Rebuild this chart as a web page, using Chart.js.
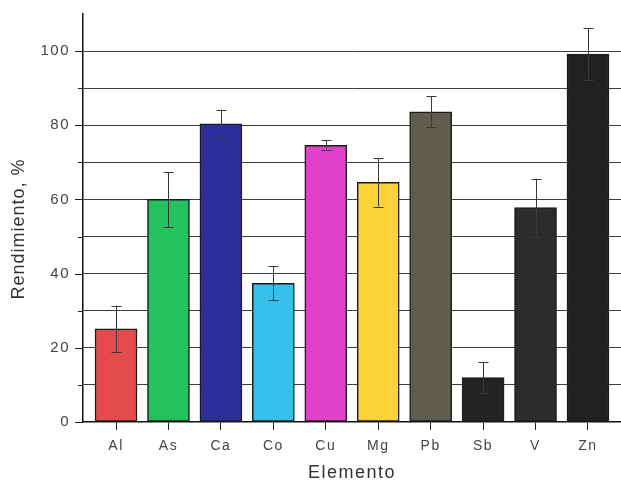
<!DOCTYPE html>
<html>
<head>
<meta charset="utf-8">
<script src="https://cdn.jsdelivr.net/npm/chart.js@4.4.1/dist/chart.umd.min.js"></script>
<style>
  html, body { margin: 0; padding: 0; background: #fff; }
  #wrap { width: 621px; height: 482px; }
</style>
</head>
<body>
<div id="wrap"><canvas id="rendimiento"></canvas></div>
<script>
  const elementos = ['Al', 'As', 'Ca', 'Co', 'Cu', 'Mg', 'Pb', 'Sb', 'V', 'Zn'];
  const rendimiento = [25.1, 60.0, 80.4, 37.4, 74.6, 64.6, 83.6, 12.0, 57.8, 99.2];
  const desviacion = [6.3, 7.4, 3.8, 4.6, 1.3, 6.5, 4.2, 4.1, 7.8, 6.9];
  const colores = [
    '#e54b4c', '#23c25f', '#2c2f9a', '#35c1e9', '#e140c9',
    '#f9d338', '#5f5d4f', '#232323', '#2c2c2c', '#202020'
  ];
  const yTicks = [0, 20, 40, 60, 80, 100];

  Chart.defaults.font.family = '"Liberation Sans", Arial, sans-serif';

  // barras de error con tapa arriba y abajo
  const errorBars = {
    id: 'errorBars',
    afterDatasetsDraw(chart) {
      const { ctx } = chart;
      const y = chart.scales.y;
      const meta = chart.getDatasetMeta(0);
      ctx.save();
      ctx.strokeStyle = '#3a3a3a';
      ctx.lineWidth = 1;
      meta.data.forEach((bar, i) => {
        const top = y.getPixelForValue(rendimiento[i] + desviacion[i]);
        const bot = y.getPixelForValue(rendimiento[i] - desviacion[i]);
        const x = Math.round(bar.x) + 0.5;
        ctx.beginPath();
        ctx.moveTo(x, top);
        ctx.lineTo(x, bot);
        ctx.moveTo(x - 5, Math.round(top) + 0.5);
        ctx.lineTo(x + 5, Math.round(top) + 0.5);
        ctx.moveTo(x - 5, Math.round(bot) + 0.5);
        ctx.lineTo(x + 5, Math.round(bot) + 0.5);
        ctx.stroke();
      });
      ctx.restore();
    }
  };

  // marcas del eje y: largas cada 20, cortas cada 10; titulo del eje y
  const yAxisMarks = {
    id: 'yAxisMarks',
    beforeDraw(chart) {
      chart.ctx.letterSpacing = '1.5px';
    },
    afterDraw(chart) {
      const { ctx, chartArea } = chart;
      const y = chart.scales.y;
      ctx.save();
      ctx.strokeStyle = '#222';
      ctx.lineWidth = 1;
      ctx.beginPath();
      for (let v = 0; v <= 100; v += 10) {
        const py = Math.round(y.getPixelForValue(v)) + 0.5;
        const len = v % 20 === 0 ? 8 : 5;
        ctx.moveTo(chartArea.left - len, py);
        ctx.lineTo(chartArea.left, py);
      }
      ctx.stroke();

      ctx.translate(19, 229);
      ctx.rotate(-Math.PI / 2);
      ctx.fillStyle = '#333';
      ctx.font = '18px "Liberation Sans", Arial, sans-serif';
      ctx.letterSpacing = '1px';
      ctx.textAlign = 'center';
      ctx.textBaseline = 'middle';
      ctx.fillText('Rendimiento, %', 0, 0);
      ctx.restore();
    }
  };

  const config = {
    type: 'bar',
    data: {
      datasets: [{
        data: rendimiento.map((v, i) => ({ x: i + 1, y: v })),
        backgroundColor: colores,
        borderColor: '#1c1c1c',
        borderWidth: 1.5,
        borderSkipped: false,
        barThickness: 42
      }]
    },
    options: {
      responsive: true,
      maintainAspectRatio: false,
      animation: false,
      layout: { padding: { top: 14, right: 0, left: 0, bottom: 0 } },
      plugins: {
        legend: { display: false },
        tooltip: { enabled: false }
      },
      scales: {
        x: {
          type: 'linear',
          offset: false,
          min: 0.37,
          max: 10.63,
          afterBuildTicks: (scale) => {
            scale.ticks = elementos.map((_, i) => ({ value: i + 1 }));
          },
          afterFit: (scale) => { scale.height = 60; },
          grid: {
            offset: false,
            drawOnChartArea: false,
            drawTicks: true,
            tickLength: 8,
            color: '#222'
          },
          border: { color: '#111', width: 1.5 },
          ticks: {
            autoSkip: false,
            maxRotation: 0,
            padding: 8,
            color: '#444',
            font: { size: 14 },
            callback: (v) => elementos[v - 1] || ''
          },
          title: {
            display: true,
            text: 'Elemento',
            color: '#333',
            font: { size: 18, lineHeight: 1 },
            padding: { top: 0, bottom: 0 }
          }
        },
        y: {
          min: 0,
          max: 110,
          afterFit: (scale) => {
            scale.width = 83;
            scale.paddingTop = 0;
            scale.paddingBottom = 0;
          },
          ticks: {
            stepSize: 10,
            padding: 13,
            color: '#444',
            font: { size: 15 },
            callback: (v) => yTicks.includes(v) ? String(v) : ''
          },
          grid: {
            drawTicks: false,
            color: (c) => (c.tick && c.tick.value > 0 && c.tick.value <= 100) ? '#3c3c3c' : 'rgba(0,0,0,0)',
            lineWidth: 1
          },
          border: { color: '#111', width: 1.5 }
        }
      }
    },
    plugins: [errorBars, yAxisMarks]
  };

  const chartRendimiento = new Chart(
    document.getElementById('rendimiento'),
    config
  );
</script>
</body>
</html>
